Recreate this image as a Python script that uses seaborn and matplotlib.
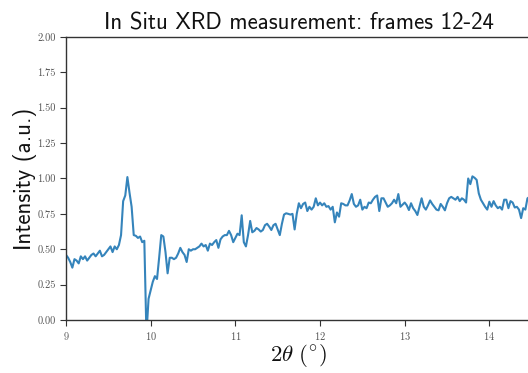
import numpy as np
import pandas as pd
import matplotlib
matplotlib.use("Agg")
import matplotlib.pyplot as plt
import seaborn as sns
from matplotlib.ticker import FormatStrFormatter

# Diffractogram, summed frames 12-24 (2theta scan from 9 to 14.5 deg, 0.025 deg step)
scan_start = 9.0
scan_stop = 14.5
intensity = [
    0.46, 0.44, 0.41, 0.37, 0.43, 0.42, 0.40, 0.45, 0.43, 0.45,
    0.42, 0.44, 0.46, 0.47, 0.45, 0.47, 0.49, 0.45, 0.46, 0.48,
    0.50, 0.52, 0.48, 0.52, 0.50, 0.53, 0.60, 0.84, 0.88, 1.01,
    0.90, 0.80, 0.60, 0.595, 0.58, 0.59, 0.55, 0.56, -0.10, 0.15,
    0.21, 0.27, 0.31, 0.29, 0.44, 0.60, 0.59, 0.48, 0.33, 0.44,
    0.44, 0.43, 0.44, 0.47, 0.51, 0.48, 0.46, 0.41, 0.50, 0.49,
    0.50, 0.50, 0.51, 0.52, 0.54, 0.52, 0.53, 0.49, 0.54, 0.53,
    0.55, 0.565, 0.51, 0.57, 0.59, 0.60, 0.60, 0.63, 0.60, 0.55,
    0.58, 0.61, 0.60, 0.74, 0.55, 0.52, 0.60, 0.70, 0.62, 0.63,
    0.65, 0.64, 0.625, 0.636, 0.67, 0.68, 0.66, 0.636, 0.67, 0.68,
    0.64, 0.60, 0.68, 0.745, 0.754, 0.75, 0.745, 0.75, 0.64, 0.75,
    0.825, 0.79, 0.82, 0.83, 0.77, 0.80, 0.78, 0.80, 0.86, 0.81,
    0.83, 0.81, 0.825, 0.80, 0.805, 0.78, 0.80, 0.69, 0.76, 0.73,
    0.825, 0.82, 0.81, 0.81, 0.845, 0.89, 0.82, 0.80, 0.81, 0.85,
    0.78, 0.80, 0.79, 0.83, 0.825, 0.85, 0.87, 0.88, 0.77, 0.86,
    0.86, 0.83, 0.80, 0.81, 0.825, 0.85, 0.825, 0.89, 0.80, 0.815,
    0.83, 0.81, 0.777, 0.825, 0.79, 0.77, 0.742, 0.80, 0.86, 0.80,
    0.78, 0.81, 0.845, 0.82, 0.80, 0.78, 0.775, 0.82, 0.80, 0.775,
    0.825, 0.86, 0.87, 0.86, 0.85, 0.87, 0.84, 0.86, 0.85, 0.83,
    1.00, 0.96, 1.015, 1.005, 0.99, 0.895, 0.85, 0.825, 0.80, 0.78,
    0.836, 0.80, 0.84, 0.81, 0.79, 0.80, 0.78, 0.85, 0.85, 0.79,
    0.84, 0.83, 0.795, 0.80, 0.78, 0.72, 0.79, 0.78, 0.86, 0.87, 0.87,
]
two_theta = np.linspace(scan_start, scan_stop, len(intensity))

x_ticks = [9, 10, 11, 12, 13, 14]
y_ticks = [0.0, 0.25, 0.5, 0.75, 1.0, 1.25, 1.5, 1.75, 2.0]

title_text = "In Situ XRD measurement: frames 12-24"
x_label = r"$2\theta\ (^{\circ})$"
y_label = "Intensity (a.u.)"

df = pd.DataFrame({"two_theta": two_theta, "intensity": intensity})

sns.set_style("ticks")
plt.rcParams["mathtext.fontset"] = "cm"
plt.rcParams["font.family"] = ["cmr10", "DejaVu Serif"]
plt.rcParams["axes.formatter.use_mathtext"] = True

fig = plt.figure(figsize=(5.28, 3.73), dpi=100)
ax = fig.add_axes([0.125, 0.142, 0.882, 0.759])

sns.lineplot(data=df, x="two_theta", y="intensity", ax=ax,
             color="#1f77b4", linewidth=1.5, alpha=0.9)

ax.set_xlim(scan_start, scan_stop)
ax.set_ylim(0, 2.0)
ax.set_xticks(x_ticks)
ax.set_yticks(y_ticks)
ax.yaxis.set_major_formatter(FormatStrFormatter("%.2f"))
ax.tick_params(axis="both", labelsize=7.5, colors="#333333", labelcolor="#555555",
               length=4, width=0.8, direction="out")

for side in ["left", "bottom", "top", "right"]:
    ax.spines[side].set_visible(True)
    ax.spines[side].set_color("#333333")
    ax.spines[side].set_linewidth(1.0)

ax.set_title(title_text, fontsize=16.5, family=["cmss10", "DejaVu Sans"], pad=5,
             color="#111111")
ax.set_ylabel(y_label, fontsize=16.5, family=["cmss10", "DejaVu Sans"], labelpad=0,
              color="#111111")
ax.set_xlabel(x_label, fontsize=16.5, labelpad=0, color="#111111")

fig.savefig("out.png", dpi=100)
